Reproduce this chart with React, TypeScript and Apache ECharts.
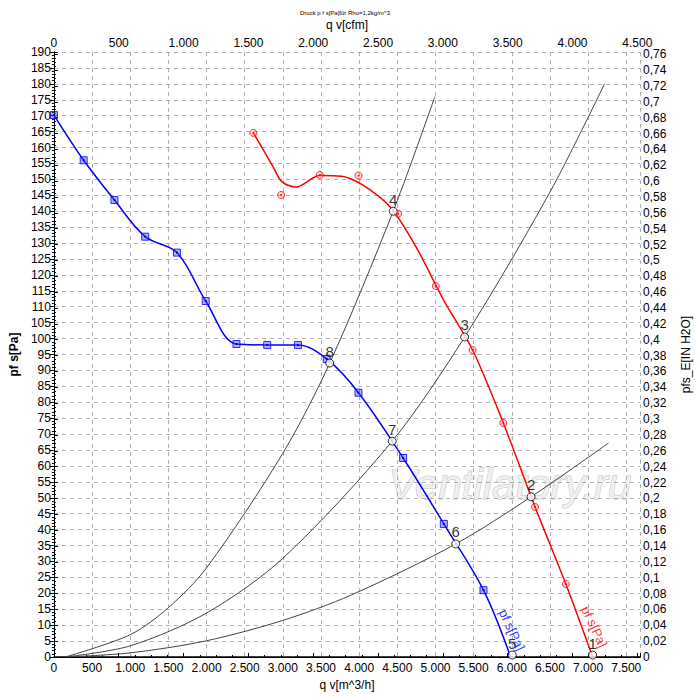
import React, { useEffect, useRef } from 'react';
import * as echarts from 'echarts';

// fan curve, static pressure [Pa] over q v [m^3/h]
const blueLineQ = [0, 390, 793, 1196, 1612, 1989, 2392, 2795, 3198, 3575, 3991, 4576, 5109, 5629, 5985];
const blueLineP = [170.2, 156, 143.5, 132, 127, 111.8, 98.3, 98, 98, 93.6, 83, 62.5, 41.8, 21, 0];
const blueMarkQ = [0, 390, 793, 1196, 1612, 1989, 2392, 2795, 3198, 3575, 3991, 4576, 5109, 5629];
const blueMarkP = [170.2, 156, 143.5, 132, 127, 111.8, 98.3, 98, 98, 93.6, 83, 62.5, 41.8, 21];

const redLineQ = [2613, 2860, 2990, 3172, 3484, 3770, 4050, 4407, 4745, 5109, 5486, 5889, 6305, 6708, 7059];
const redLineP = [164.6, 154.5, 149.2, 147.6, 151.2, 151, 148.2, 141.3, 128.8, 112, 96.4, 73.5, 47.1, 22.9, 0];
const redMarkQ = [2613, 2977, 3484, 3991, 4511, 5005, 5486, 5889, 6305, 6708];
const redMarkP = [164.6, 145.1, 151.4, 151.2, 139.2, 116.5, 96.4, 73.5, 47.1, 22.9];

// system curves
const sysAQ = [150, 1000, 1500, 2000, 3000, 3614, 4446, 4992];
const sysAP = [0, 7, 15.5, 28, 64, 92.3, 140, 176];
const sysBQ = [150, 1000, 2000, 3000, 4433, 5382, 6500, 7215];
const sysBP = [0, 3.5, 13.8, 31, 67.8, 100.5, 146, 180];
const sysCQ = [150, 1000, 2000, 3000, 3900, 5265, 6253, 7267];
const sysCP = [0, 1.3, 5.1, 11.5, 19.5, 35.5, 50.3, 67.2];

// operating points
const opLabels = ['1', '2', '3', '4', '5', '6', '7', '8'];
const opQ = [7059, 6253, 5382, 4446, 6006, 5265, 4433, 3614];
const opP = [0.6, 50.3, 100.5, 140, 0.6, 35.5, 67.8, 92.3];

const qMax = 7680;
const pMax = 190;
const cfmPerM3h = 0.5886;
const paPerInH2O = 249.0889;

const pair = (q: number[], p: number[]) => q.map((v, i) => [v, p[i]]);

const thousands = (v: number) => {
    if (v < 1000) return String(v);
    const r = v % 1000;
    return Math.floor(v / 1000) + '.' + String(r).padStart(3, '0');
};

const FONT = '"Liberation Sans", Arial, sans-serif';

const Chart: React.FC = () => {
    const chartRef = useRef<HTMLDivElement>(null);

    useEffect(() => {
        document.body.style.margin = '0';
        if (!chartRef.current) return;
        const chart = echarts.init(chartRef.current, null, { renderer: 'svg' });

        const sysStyle = { color: '#444', width: 1 };
        const options = {
            animation: false,
            textStyle: { fontFamily: FONT },
            grid: { left: 50, right: 59, top: 52, bottom: 43 },
            graphic: [
                {
                    type: 'text', x: 345, y: 13, z: 10,
                    style: { text: 'Druck p f s[Pa]für Rho=1,2kg/m^3', font: '6px ' + FONT, fill: '#000', textAlign: 'center', textVerticalAlign: 'middle' }
                },
                {
                    type: 'text', x: 510, y: 484, z: 0,
                    style: { text: 'Ventilatory.ru', font: 'italic 42px ' + FONT, fill: '#f0f0f0', stroke: '#bdbdbd', lineWidth: 1, textAlign: 'center', textVerticalAlign: 'middle' }
                }
            ],
            xAxis: [
                {
                    type: 'value', position: 'bottom', min: 0, max: qMax, interval: 500,
                    name: 'q v[m^3/h]', nameLocation: 'middle', nameGap: 20,
                    nameTextStyle: { color: '#000', fontSize: 12 },
                    axisLine: { lineStyle: { color: '#000', width: 1.5 } },
                    axisTick: { show: false },
                    axisLabel: { color: '#000', fontSize: 12, margin: 5, showMaxLabel: false, formatter: thousands },
                    splitLine: { show: true, lineStyle: { color: '#b0b0b0', type: [4, 4] } }
                },
                {
                    type: 'value', position: 'top', min: 0, max: qMax * cfmPerM3h, interval: 500,
                    name: 'q v[cfm]', nameLocation: 'middle', nameGap: 21,
                    nameTextStyle: { color: '#000', fontSize: 12 },
                    axisLine: { lineStyle: { color: '#000' } },
                    axisTick: { show: true, length: 4, lineStyle: { color: '#000' } },
                    minorTick: { show: true, splitNumber: 4, length: 2, lineStyle: { color: '#000' } },
                    axisLabel: { color: '#000', fontSize: 12, margin: 3, showMaxLabel: false, formatter: thousands },
                    splitLine: { show: false }
                }
            ],
            yAxis: [
                {
                    type: 'value', position: 'left', min: 0, max: pMax, interval: 5,
                    name: 'pf s[Pa]', nameLocation: 'middle', nameGap: 26, nameRotate: 90,
                    nameTextStyle: { color: '#000', fontSize: 12, fontWeight: 'bold' },
                    axisLine: { show: true, lineStyle: { color: '#000' } },
                    axisTick: { show: true, length: 4, lineStyle: { color: '#000' } },
                    minorTick: { show: true, splitNumber: 5, length: 2, lineStyle: { color: '#000' } },
                    axisLabel: { color: '#000', fontSize: 12, margin: 3 },
                    splitLine: { show: true, lineStyle: { color: '#b0b0b0', type: [4, 4] } }
                },
                {
                    type: 'value', position: 'right', min: 0, max: pMax / paPerInH2O, interval: 0.02,
                    name: 'pfs_E[IN H2O]', nameLocation: 'middle', nameGap: 40, nameRotate: 90,
                    nameTextStyle: { color: '#000', fontSize: 12 },
                    axisLine: { show: true, lineStyle: { color: '#000' } },
                    axisTick: { show: true, length: 4, lineStyle: { color: '#000' } },
                    minorTick: { show: true, splitNumber: 4, length: 2, lineStyle: { color: '#000' } },
                    axisLabel: {
                        color: '#000', fontSize: 12, margin: 3, showMaxLabel: false,
                        formatter: (v: number) => String(parseFloat(v.toFixed(2))).replace('.', ',')
                    },
                    splitLine: { show: false }
                }
            ],
            series: [
                { type: 'line', smooth: 0.3, showSymbol: false, data: pair(sysAQ, sysAP), lineStyle: sysStyle, z: 3 },
                { type: 'line', smooth: 0.3, showSymbol: false, data: pair(sysBQ, sysBP), lineStyle: sysStyle, z: 3 },
                { type: 'line', smooth: 0.3, showSymbol: false, data: pair(sysCQ, sysCP), lineStyle: sysStyle, z: 3 },
                { type: 'line', smooth: 0.35, showSymbol: false, data: pair(blueLineQ, blueLineP), lineStyle: { color: '#0000ff', width: 1.5 }, z: 4 },
                {
                    type: 'scatter', symbol: 'rect', symbolSize: 7, data: pair(blueMarkQ, blueMarkP), z: 5,
                    itemStyle: { color: 'rgba(70,70,255,0.55)', borderColor: '#0000ff', borderWidth: 1 }
                },
                { type: 'scatter', symbol: 'rect', symbolSize: 2, data: pair(blueMarkQ, blueMarkP), z: 6, itemStyle: { color: '#000080' } },
                { type: 'line', smooth: 0.3, showSymbol: false, data: pair(redLineQ, redLineP), lineStyle: { color: '#ff0000', width: 1.5 }, z: 4 },
                {
                    type: 'scatter', symbol: 'circle', symbolSize: 7, data: pair(redMarkQ, redMarkP), z: 5,
                    itemStyle: { color: 'rgba(255,120,120,0.3)', borderColor: '#ff0000', borderWidth: 1 }
                },
                { type: 'scatter', symbol: 'circle', symbolSize: 2, data: pair(redMarkQ, redMarkP), z: 6, itemStyle: { color: '#ff0000' } },
                {
                    type: 'scatter', symbol: 'circle', symbolSize: 8, z: 7,
                    data: opQ.map((q, i) => ({ value: [q, opP[i]], name: opLabels[i] })),
                    itemStyle: { color: '#fff', borderColor: '#000', borderWidth: 1 },
                    label: { show: true, position: 'top', distance: 0, formatter: '{b}', color: '#000', fontSize: 15, fontFamily: FONT }
                },
                {
                    type: 'scatter', symbolSize: 0, z: 7, silent: true,
                    data: [[6000, 8.5]],
                    label: { show: true, position: 'inside', rotate: -65, formatter: 'pf s[Pa]', color: '#0000ff', fontSize: 13, fontFamily: FONT }
                },
                {
                    type: 'scatter', symbolSize: 0, z: 7, silent: true,
                    data: [[7080, 9.5]],
                    label: { show: true, position: 'inside', rotate: -65, formatter: 'pf s[Pa]', color: '#ff0000', fontSize: 13, fontFamily: FONT }
                }
            ]
        };
        chart.setOption(options as any);
        return () => {
            chart.dispose();
        };
    }, []);

    return <div ref={chartRef} style={{ width: 700, height: 700 }} />;
};

export default function App() {
    return <Chart />;
}
